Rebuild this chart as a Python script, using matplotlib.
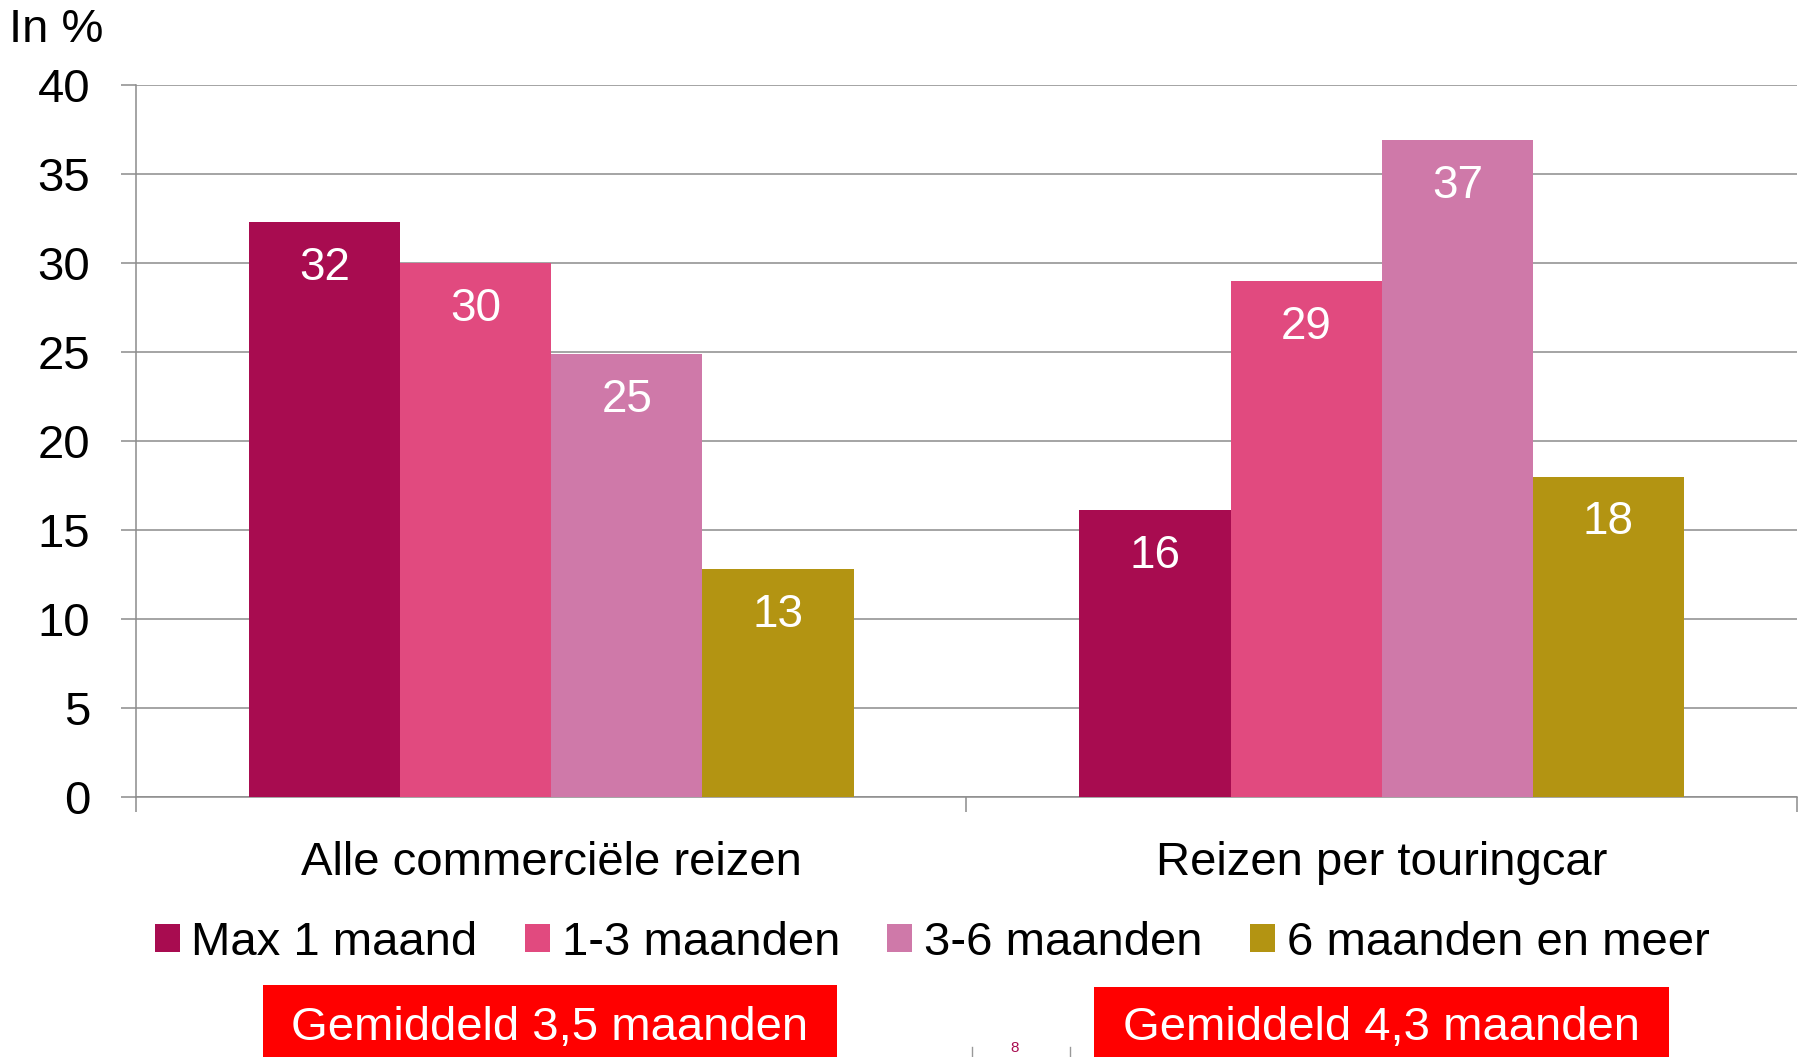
import matplotlib
matplotlib.use("Agg")
import matplotlib.pyplot as plt
from matplotlib.patches import Rectangle
from matplotlib.lines import Line2D
import numpy as np

plt.rcParams["font.family"] = ["Liberation Sans", "DejaVu Sans"]

# Data
categories = ["Alle commerciële reizen", "Reizen per touringcar"]
series_names = ["Max 1 maand", "1-3 maanden", "3-6 maanden", "6 maanden en meer"]
values = [
    [32.3, 16.1],   # Max 1 maand
    [30.0, 29.0],   # 1-3 maanden
    [24.9, 36.9],   # 3-6 maanden
    [12.8, 18.0],   # 6 maanden en meer
]
averages = ["Gemiddeld 3,5 maanden", "Gemiddeld 4,3 maanden"]
yticks = [0, 5, 10, 15, 20, 25, 30, 35, 40]

colors = ["#a80c50", "#e14a7f", "#cf79a9", "#b39412"]
grid_color = "#8c8c8c"
FS = 34

fig = plt.figure(figsize=(18.08, 10.57), dpi=100)
ax = fig.add_axes([0.0752, 0.246, 0.9187, 0.6736])

x = np.arange(len(categories))
width = 0.182
for i, name in enumerate(series_names):
    pos = x + (i - 1.5) * width
    bars = ax.bar(pos, values[i], width=width, color=colors[i], label=name,
                  zorder=3, linewidth=0)
    for b, v in zip(bars, values[i]):
        ax.annotate(f"{v:.0f}", (b.get_x() + b.get_width() / 2, v),
                    xytext=(0, -33), textcoords="offset points",
                    ha="center", va="center", color="white", fontsize=FS - 1,
                    zorder=4)

ax.set_xlim(-0.5, 1.5)
ax.set_ylim(0, 40)
ax.set_yticks(yticks)
ax.yaxis.grid(True, color=grid_color, linewidth=1.1, zorder=0)
ax.tick_params(axis="y", length=11, width=1.1, color=grid_color, pad=22,
               labelsize=FS)

ax.set_xticks(x)
ax.set_xticklabels(categories)
ax.set_xticks([-0.5, 0.5, 1.5], minor=True)
ax.tick_params(axis="x", which="major", length=0, pad=32, labelsize=FS)
ax.tick_params(axis="x", which="minor", length=11, width=1.1, color=grid_color)

for side in ["top", "right"]:
    ax.spines[side].set_visible(False)
for side in ["left", "bottom"]:
    ax.spines[side].set_color(grid_color)
    ax.spines[side].set_linewidth(1.1)

fig.text(0.005, 0.972, "In %", fontsize=FS, ha="left", va="center")

ax.legend(loc="center", bbox_to_anchor=(0.5155, 0.108),
          bbox_transform=fig.transFigure, ncol=4, frameon=False,
          fontsize=FS, handlelength=0.53, handleheight=0.53,
          handletextpad=0.25, columnspacing=1.0, borderaxespad=0)

# red boxes with averages
boxes = [(263, 985, 574), (1094, 987, 575)]
for (bx, by, bw), txt in zip(boxes, averages):
    fx = bx / 1808
    fh = (1057 - by) / 1057
    fig.patches.append(Rectangle((fx, 0), bw / 1808, fh, transform=fig.transFigure,
                                 facecolor="#ff0000", edgecolor="none"))
    fig.text(fx + bw / 1808 / 2, 1 - 1028 / 1057, txt, color="white",
             fontsize=FS, ha="center", va="center")

# page footer remnant at the bottom edge
for lx in [972, 1070]:
    fig.lines.append(Line2D([lx / 1808, lx / 1808], [0, 10 / 1057],
                            transform=fig.transFigure, color="#999999", lw=1))
fig.text(1015 / 1808, 0.002, "8", color="#a80c50", fontsize=11,
         ha="center", va="bottom")

fig.savefig("out.png", dpi=100)
